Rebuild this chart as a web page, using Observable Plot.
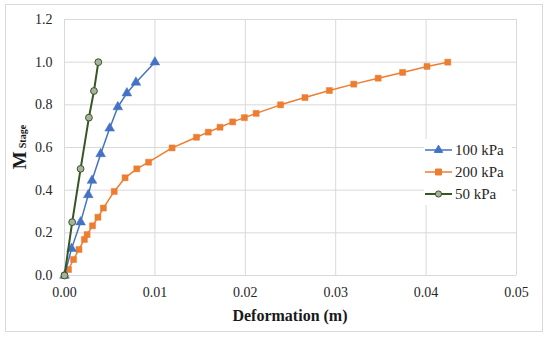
<!DOCTYPE html>
<html>
<head>
<meta charset="utf-8">
<script src="https://cdn.jsdelivr.net/npm/d3@7"></script>
<script src="https://cdn.jsdelivr.net/npm/@observablehq/plot@0.6"></script>
<style>
  html, body { margin: 0; padding: 0; background: #fff; }
  #wrap { position: relative; width: 550px; height: 338px; font-family: 'Liberation Serif', 'Times New Roman', serif; }
  #wrap svg, #wrap svg text { font-family: 'Liberation Serif', 'Times New Roman', serif !important; }
  #border { position: absolute; left: 5px; top: 4px; width: 538px; height: 328px; border: 1px solid #d9d9d9; box-sizing: border-box; pointer-events: none; z-index: 2; }
</style>
</head>
<body>
<div id="wrap"><div id="border"></div></div>
<script>
// Series: 100 kPa
const x100 = [0, 0.00078, 0.00178, 0.00263, 0.00304, 0.0040, 0.0050, 0.0059, 0.0069, 0.0079, 0.0100];
const y100 = [0, 0.126, 0.25, 0.378, 0.445, 0.57, 0.69, 0.79, 0.855, 0.905, 1.0];
// Series: 200 kPa
const x200 = [0, 0.00044, 0.0010, 0.0016, 0.0022, 0.0025, 0.0031, 0.0037, 0.0043, 0.0055, 0.0067, 0.0080, 0.0093, 0.0119, 0.0146, 0.0159, 0.0172, 0.0186, 0.0199, 0.0212, 0.0239, 0.0266, 0.0293, 0.0320, 0.0347, 0.0374, 0.0401, 0.0424];
const y200 = [0, 0.028, 0.075, 0.122, 0.169, 0.192, 0.233, 0.273, 0.316, 0.394, 0.458, 0.50, 0.531, 0.598, 0.648, 0.672, 0.695, 0.72, 0.74, 0.76, 0.80, 0.834, 0.867, 0.897, 0.925, 0.952, 0.98, 1.0];
// Series: 50 kPa
const x50 = [0, 0.00085, 0.00178, 0.0027, 0.00326, 0.00374];
const y50 = [0, 0.25, 0.5, 0.74, 0.865, 1.0];

const seriesNames = ["100 kPa", "200 kPa", "50 kPa"];
const xTicks = [0, 0.01, 0.02, 0.03, 0.04, 0.05];
const yTicks = [0, 0.2, 0.4, 0.6, 0.8, 1.0, 1.2];

const d100 = x100.map((x, i) => ({x, y: y100[i]}));
const d200 = x200.map((x, i) => ({x, y: y200[i]}));
const d50 = x50.map((x, i) => ({x, y: y50[i]}));

const blue = "#4472C4", orange = "#ED7D31", green = "#375623", grayFill = "#A9B1A2";
const FONT = "'Liberation Serif', 'Times New Roman', serif";

const chart = Plot.plot({
  width: 550,
  height: 338,
  marginLeft: 64,
  marginRight: 34,
  marginTop: 19,
  marginBottom: 63,
  style: { fontFamily: FONT, fontSize: "14px", background: "transparent", color: "#404040" },
  x: { domain: [0, 0.05], ticks: xTicks, tickFormat: d3.format(".2f"), label: null },
  y: { domain: [0, 1.2], ticks: yTicks, tickFormat: d3.format(".1f"), label: null },
  marks: [
    Plot.gridX(xTicks, { stroke: "#d9d9d9", strokeOpacity: 1 }),
    Plot.gridY(yTicks, { stroke: "#d9d9d9", strokeOpacity: 1 }),
    Plot.axisX(xTicks, { tickSize: 0, tickPadding: 12, tickFormat: d3.format(".2f"), fill: "#262626", fontSize: 14 }),
    Plot.axisY(yTicks, { tickSize: 0, tickPadding: 12, tickFormat: d3.format(".1f"), fill: "#262626", fontSize: 14 }),
    Plot.line(d200, { x: "x", y: "y", stroke: orange, strokeWidth: 1.5 }),
    Plot.dot(d200, { x: "x", y: "y", symbol: "square", r: 3.4, fill: orange, stroke: orange, strokeWidth: 0.5 }),
    Plot.line(d100, { x: "x", y: "y", stroke: blue, strokeWidth: 1.5 }),
    Plot.dot(d100, { x: "x", y: "y", symbol: "triangle", r: 3.6, fill: blue, stroke: blue, strokeWidth: 0.5 }),
    Plot.line(d50, { x: "x", y: "y", stroke: green, strokeWidth: 2 }),
    Plot.dot(d50, { x: "x", y: "y", symbol: "circle", r: 3.4, fill: grayFill, stroke: green, strokeWidth: 1 })
  ]
});

const svg = d3.select(chart);

// X axis title
svg.append("text")
  .attr("x", 290).attr("y", 321)
  .attr("text-anchor", "middle")
  .style("font-family", FONT)
  .style("font-size", "16px").style("font-weight", "bold").attr("fill", "#1a1a1a")
  .text("Deformation (m)");

// Y axis title
const yt = svg.append("text")
  .attr("transform", "translate(26,147) rotate(-90)")
  .attr("text-anchor", "middle")
  .style("font-family", FONT)
  .style("font-weight", "bold").attr("fill", "#1a1a1a");
yt.append("tspan").style("font-size", "19px").text("M");
yt.append("tspan").style("font-size", "10px").attr("dx", 3).attr("dy", 0).text("Stage");

// Legend (drawn in svg with white background)
const lg = svg.append("g").attr("text-anchor", "start");
lg.append("rect").attr("x", 424).attr("y", 139).attr("width", 88).attr("height", 66).attr("fill", "#fff");
const legendItems = [
  { name: seriesNames[0], color: blue, symbol: d3.symbolTriangle, fill: blue, stroke: blue, size: 30 },
  { name: seriesNames[1], color: orange, symbol: d3.symbolSquare, fill: orange, stroke: orange, size: 36 },
  { name: seriesNames[2], color: green, symbol: d3.symbolCircle, fill: grayFill, stroke: green, size: 30 }
];
legendItems.forEach((it, i) => {
  const yy = 150 + i * 22;
  lg.append("line").attr("x1", 425).attr("x2", 452).attr("y1", yy).attr("y2", yy)
    .attr("stroke", it.color).attr("stroke-width", it.color === green ? 2 : 1.5);
  lg.append("path").attr("d", d3.symbol(it.symbol, it.size)())
    .attr("transform", `translate(438.5,${yy})`)
    .attr("fill", it.fill).attr("stroke", it.stroke).attr("stroke-width", 1);
  lg.append("text").attr("x", 455).attr("y", yy + 5).attr("text-anchor", "start")
    .style("font-family", FONT)
    .style("font-size", "15px").attr("fill", "#262626").text(it.name);
});

document.getElementById("wrap").appendChild(chart);
chart.style.position = "absolute";
chart.style.left = "0";
chart.style.top = "0";
</script>
</body>
</html>
